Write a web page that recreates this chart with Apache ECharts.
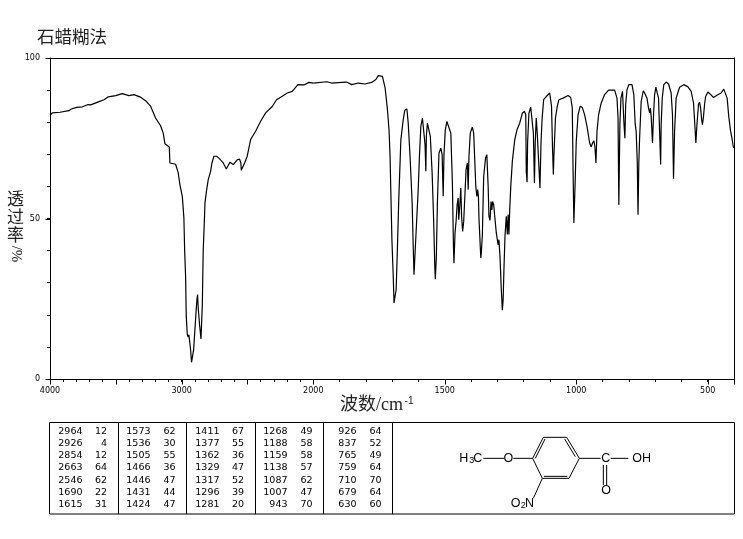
<!DOCTYPE html>
<html><head><meta charset="utf-8">
<style>html,body{margin:0;padding:0;background:#fff}#c{width:743px;height:539px}</style>
<script src="https://cdn.jsdelivr.net/npm/echarts@6/dist/echarts.min.js"></script>
</head><body><div id="c"></div>
<script>
// Wavenumber scale is compressed above 2000 cm-1, so the spectrum lives in two joined grids.
const wnHigh = [4000,3982,3924,3914,3856,3838,3798,3754,3711,3691,3628,3590,3557,3501,3451,3400,3362,3317,3274,3236,3198,3160,3140,3127,3094,3089,3046,3026,3013,2995,2983,2977,2970,2965,2957,2950,2945,2940,2932,2925,2917,2909,2901,2891,2884,2879,2874,2864,2853,2848,2843,2836,2828,2823,2810,2798,2780,2770,2755,2735,2717,2702,2687,2674,2661,2646,2633,2608,2578,2560,2550,2547,2537,2522,2502,2476,2438,2400,2362,2312,2279,2236,2198,2160,2117,2071,2033,2000];
const tHigh = [82.1,82.9,83.1,83.5,83.6,84.1,84.6,84.8,85.5,85.4,86.4,87,87.9,88.3,88.9,88.3,88.6,87.9,86.7,85,81.3,78.9,76.6,73.3,72.3,67.3,66.9,64.2,60.5,56.9,50.2,39.8,32,19.5,13.8,13.1,13.8,13.3,9.1,5.2,5,9.1,14.3,20.6,24.7,26.3,22.1,16.9,12.5,12.5,23.2,40.3,48.6,54.8,59,62.1,64.7,67.3,69.4,69.4,68.8,69.4,67.5,66.5,65.4,66,67.5,66.8,68.3,68.5,67.3,65,64.8,67.3,69.4,74.6,77.2,80.3,82.9,84.9,87,88.1,89.1,89.6,91.7,91.6,92.4,92.2];
const wnLow = [2000,1949,1930,1892,1873,1854,1829,1804,1778,1762,1753,1746,1737,1727,1724,1718,1712,1708,1705,1701,1696,1693,1689,1685,1681,1675,1667,1658,1652,1644,1639,1632,1624,1620,1617,1613,1608,1601,1596,1591,1585,1579,1575,1572,1570,1566,1561,1555,1548,1542,1538,1536,1532,1528,1522,1515,1510,1506,1503,1498,1492,1485,1477,1471,1467,1465,1461,1457,1453,1449,1447,1443,1439,1436,1432,1428,1423,1419,1414,1411,1408,1403,1395,1390,1386,1382,1378,1375,1372,1370,1363,1361,1357,1352,1345,1340,1335,1332,1328,1324,1321,1318,1314,1310,1304,1297,1294,1290,1285,1281,1278,1275,1271,1266,1262,1259,1256,1253,1249,1243,1234,1225,1215,1205,1197,1192,1190,1187,1185,1180,1173,1168,1163,1159,1156,1152,1148,1142,1138,1134,1130,1124,1114,1101,1094,1090,1087,1085,1079,1072,1066,1050,1031,1021,1015,1012,1009,1004,1000,993,985,977,968,958,949,943,938,933,929,925,921,915,905,892,877,854,845,841,838,834,830,824,819,815,812,807,800,788,781,776,772,768,765,762,759,753,745,740,731,725,721,718,715,710,706,702,697,692,687,683,679,677,673,667,658,649,639,634,630,626,620,607,591,575,563,554,549,545,541,535,531,527,523,520,516,512,508,499,491,478,465,449,439,432,426,420,413,408,403,400];
const tLow = [92.2,92.6,92.2,92.4,92.5,91.7,92.2,91.9,92.4,93.3,94.5,95,94.3,90.7,88.5,83.9,77.6,69.3,57.9,43.4,32,23.7,23.2,27.8,38.2,55.8,74.5,80.8,83.7,84.1,79.7,69.3,54.8,41.3,32.5,33,47.5,59,70,78.7,81.3,81.3,73,64.7,75.6,79.7,79.7,75.6,64.1,48.6,35.1,31.1,38.2,55,70.4,71.9,69.9,56.9,69.9,77.6,80.2,80.5,76.6,61,41.3,36.1,45.5,49.1,54.3,56.4,49.6,53.8,59.5,50.7,46,49.1,49.1,65.2,67.3,59,69.3,76.6,78.5,76.6,68.3,60,56.9,59,56.9,50.2,37.7,39.3,45,63.1,68.8,69.9,60,50.7,49.4,55.3,52.7,55.3,54.3,54,45.5,41.8,43.4,38.2,27.8,21.4,24.7,34,44.4,50.7,45,51.2,45,52.7,60,67.8,74.5,77.7,79.7,82.8,83.4,82.3,64.7,61.3,73.5,82.8,84.7,84.4,76.6,61,73.5,81.3,76.1,76.1,59.5,73.5,80.8,87,88,89.1,85,71.4,63.7,69.4,81.3,85,87,87.5,88.3,87.7,84.4,64.7,48.6,61.6,74,82.3,85,84.6,82.3,78.2,73.5,72.3,73.5,74.2,72.5,67.3,77.2,82.3,86,88.6,90,90,87.5,81.3,54.3,79.2,87.5,89.6,80.3,75,85.5,90.1,91.7,91.7,88.6,79.7,77,67.8,51.2,67.3,75,86.5,89.8,89.1,87.5,84.4,82.9,84.4,81.8,73.5,82.3,88.6,90.9,89.1,87.5,77.2,66.8,79.2,87.5,91.7,92.5,91.9,89.1,82.3,62.4,77.2,87.5,90.9,91.7,91,89.6,86,79.2,73.5,79.2,85.5,86.3,84.4,80.8,79.2,81.8,85.5,88,89.4,88.8,87.7,88.4,89.1,90.3,90.1,87.5,81.8,77.2,75.1,72.5,72];
const highLabels = [4000,3000,2000];
const lowLabels = [1500,1000,500];
const highMajorTicks = [4000,3500,3000,2500,2000];
const lowMajorTicks = [1500,1000,500,400];
const yMajorTicks = [0,50,100];
const yLabels = [0,50,100];
const peakWn = [
  ['2964','2926','2854','2663','2546','1690','1615'],
  ['1573','1536','1505','1466','1446','1431','1424'],
  ['1411','1377','1362','1329','1317','1296','1281'],
  ['1268','1188','1159','1138','1087','1007','943'],
  ['926','837','765','759','710','679','630']];
const peakT = [
  ['12','4','12','64','62','22','31'],
  ['62','30','55','36','47','44','47'],
  ['67','55','36','47','52','39','20'],
  ['49','58','58','57','62','47','70'],
  ['64','52','49','64','70','64','60']];
const titleText = '石蜡糊法';

const K='#000', AF='"DejaVu Sans",sans-serif', TF='"Liberation Sans",Arial,sans-serif', CJK='"Liberation Serif","Noto Sans CJK SC",serif';
const zip=(a,b)=>a.map((v,i)=>[v,b[i]]);
const chart=echarts.init(document.getElementById('c'),null,{renderer:'canvas'});
const line={show:true,onZero:false,lineStyle:{color:K,width:1}};
const fmt=v=>String(v);
const labelStyle={color:K,fontFamily:AF,fontSize:8,formatter:fmt};
const minorTick={show:true,length:3,lineStyle:{color:K,width:1}};
const g=[];
const txt=(x,y,t,o={})=>g.push({type:'text',x,y,silent:true,rotation:o.rot||0,style:{text:t,fill:o.fill||K,font:(o.size||9.5)+'px '+(o.font||AF),align:o.align||'center',verticalAlign:'middle'}});
const seg=(x1,y1,x2,y2)=>g.push({type:'line',silent:true,shape:{x1,y1,x2,y2},style:{stroke:K,lineWidth:1}});
// Headings
txt(37,36,titleText,{align:'left',size:17.5,font:'"Noto Sans CJK SC"',fill:'#222'});
txt(340,405,'波数/cm',{align:'left',size:18,font:CJK,fill:'#222'});
txt(409,401,'-1',{align:'center',size:10,font:'"Liberation Sans"',fill:'#222'});
txt(15.5,199,'透',{size:17,font:'"Noto Sans CJK SC"',fill:'#222'});
txt(15.5,217,'过',{size:17,font:'"Noto Sans CJK SC"',fill:'#222'});
txt(15.5,235,'率',{size:17,font:'"Noto Sans CJK SC"',fill:'#222'});
txt(15.5,254,'/%',{size:15,font:'"Liberation Serif"',rot:-Math.PI/2,fill:'#222'});
// Peak table
g.push({type:'rect',silent:true,shape:{x:49.5,y:422.5,width:685,height:91.5},style:{fill:'none',stroke:K,lineWidth:1}});
[118.5,186.5,255.5,323.5,392.5].forEach(x=>seg(x,422.5,x,514));
const colW=[82.5,150.5,219.5,287.5,356.5], colT=[107,175.5,244,312.5,381.5];
peakWn.forEach((col,c)=>col.forEach((v,r)=>{
  const y=431.7+r*12.1;
  txt(colW[c],y,v,{align:'right'}); txt(colT[c],y,peakT[c][r],{align:'right'});
}));
// Structure
const P=(zx,zy)=>[390+zx/3,415+zy/3];
const bond=(a,b,c,d)=>{const p=P(a,b),q=P(c,d);seg(p[0],p[1],q[0],q[1]);};
[[428,130,460,67],[460,67,530,67],[530,67,568,130],[568,130,537,190],[537,190,457,190],[457,190,428,130],
 [436,130,465,72],[524,72,556,125],[462,184,532,184],
 [280,130,342,130],[370,130,428,130],[568,130,632,130],[662,130,715,130],[640,150,640,210],[650,150,650,210],[457,190,430,250]
].forEach(b=>bond(...b));
const mol=(zx,zy,t,size=12.5,align='center')=>{const p=P(zx,zy);txt(p[0],p[1],t,{size,font:TF,align});};
mol(208,130,'H',12.5,'left');mol(238,138,'3',9,'left');mol(250,130,'C',12.5,'left');
mol(355,130,'O');mol(647,130,'C');mol(755,130,'OH');mol(648,228,'O');
mol(362,265,'O',12.5,'left');mol(392,273,'2',9,'left');mol(405,265,'N',12.5,'left');

// Longer ticks at the major values, placed through each grid's own axes.
const xMajor=(xi,yi,vals)=>({type:'custom',xAxisIndex:xi,yAxisIndex:yi,clip:false,silent:true,data:vals.map(v=>[v,0]),
  renderItem:(p,api)=>{const c=api.coord([api.value(0),0]);const x=Math.round(c[0])+0.5,y=Math.round(c[1])+0.5;
    return {type:'line',shape:{x1:x,y1:y,x2:x,y2:y+5},style:{stroke:K,lineWidth:1}};}});
const yMajor=(xi,yi,xv,vals)=>({type:'custom',xAxisIndex:xi,yAxisIndex:yi,clip:false,silent:true,data:vals.map(v=>[xv,v]),
  renderItem:(p,api)=>{const c=api.coord([api.value(0),api.value(1)]);const x=Math.round(c[0])+0.5,y=Math.round(c[1])+0.5;
    return {type:'line',shape:{x1:x-5,y1:y,x2:x,y2:y},style:{stroke:K,lineWidth:1}};}});

const option={
  animation:false,backgroundColor:'#fff',
  grid:[{left:50,top:58,width:263.3,height:321},{left:313.3,top:58,width:420.7,height:321}],
  xAxis:[
    {type:'value',gridIndex:0,position:'bottom',inverse:true,min:2000,max:4000,interval:100,axisLine:line,
      splitLine:{show:false},axisTick:minorTick,
      axisLabel:{...labelStyle,margin:8,customValues:highLabels,hideOverlap:false}},
    {type:'value',gridIndex:0,position:'top',inverse:true,min:2000,max:4000,axisLine:line,splitLine:{show:false},axisTick:{show:false},axisLabel:{show:false}},
    {type:'value',gridIndex:1,position:'bottom',inverse:true,min:400,max:2000,interval:100,axisLine:line,
      splitLine:{show:false},axisTick:minorTick,
      axisLabel:{...labelStyle,margin:8,customValues:lowLabels,hideOverlap:false}},
    {type:'value',gridIndex:1,position:'top',inverse:true,min:400,max:2000,axisLine:line,splitLine:{show:false},axisTick:{show:false},axisLabel:{show:false}}
  ],
  yAxis:[
    {type:'value',gridIndex:0,position:'left',min:0,max:100,interval:10,axisLine:line,splitLine:{show:false},
      axisTick:minorTick,axisLabel:{...labelStyle,margin:10,customValues:yLabels}},
    {type:'value',gridIndex:1,position:'right',min:0,max:100,axisLine:line,splitLine:{show:false},axisTick:{show:false},axisLabel:{show:false}}
  ],
  series:[
    {type:'line',xAxisIndex:0,yAxisIndex:0,data:zip(wnHigh,tHigh),showSymbol:false,symbol:'none',lineStyle:{color:K,width:1.2},silent:true},
    {type:'line',xAxisIndex:2,yAxisIndex:1,data:zip(wnLow,tLow),showSymbol:false,symbol:'none',lineStyle:{color:K,width:1.2},silent:true},
    xMajor(0,0,highMajorTicks),
    xMajor(2,1,lowMajorTicks),
    yMajor(0,0,4000,yMajorTicks)
  ],
  graphic:g
};
chart.setOption(option);
</script></body></html>
